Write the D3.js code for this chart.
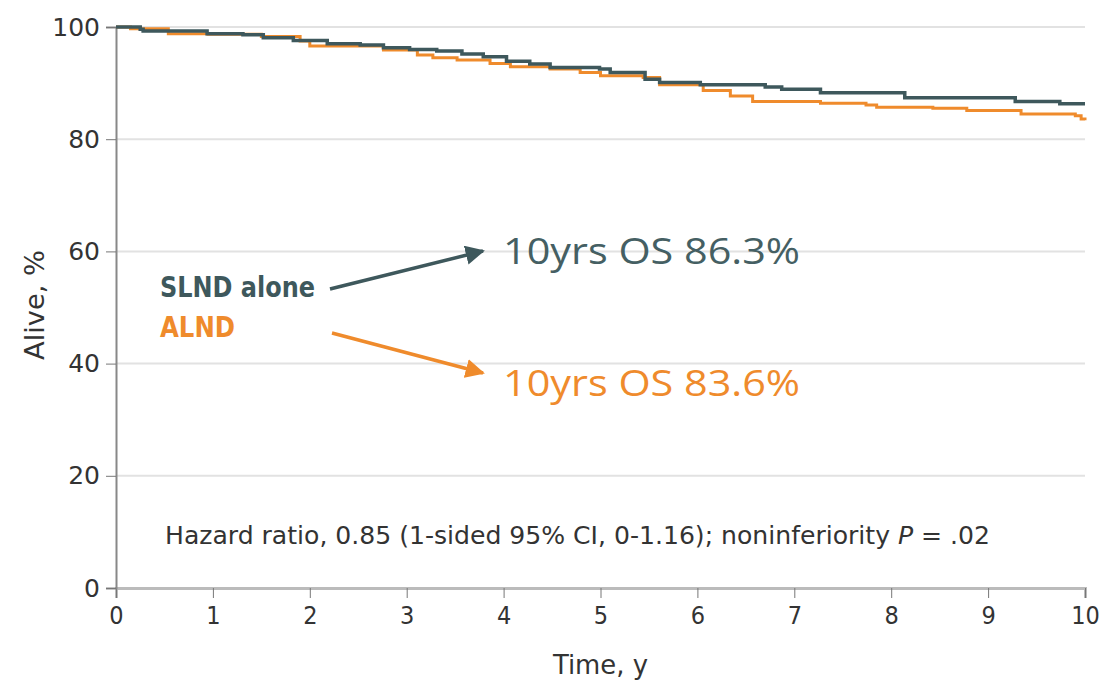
<!DOCTYPE html>
<head>
	<script src="https://d3js.org/d3.v7.min.js"></script>
	<style>
		body { margin: 0; background: #fff; }
		text { font-family: "DejaVu Sans Condensed", "DejaVu Sans", sans-serif; }
	</style>
</head>
<body>
<svg></svg>
<script>
	// step points: [time in years, % alive after that time]
	var slndTimes  = [0, 0.25, 0.28, 0.94, 1.31, 1.52, 1.83, 2.18, 2.52, 2.76, 3.03, 3.31, 3.57, 3.79, 4.03, 4.27, 4.48, 4.99, 5.10, 5.46, 5.61, 6.03, 6.70, 6.87, 7.27, 8.14, 9.28, 9.74, 10];
	var slndValues = [100, 99.6, 99.3, 98.8, 98.6, 98.1, 97.6, 97.0, 96.8, 96.3, 96.0, 95.7, 95.2, 94.7, 93.9, 93.4, 92.8, 92.5, 91.9, 90.7, 90.1, 89.7, 89.3, 88.9, 88.3, 87.4, 86.7, 86.3, 86.3];
	var alndTimes  = [0, 0.15, 0.54, 0.95, 1.50, 1.90, 2.00, 2.76, 3.11, 3.27, 3.52, 3.86, 4.07, 4.48, 4.79, 5.00, 5.44, 5.61, 6.06, 6.34, 6.57, 7.27, 7.74, 7.85, 8.43, 8.78, 9.34, 9.90, 9.96, 10];
	var alndValues = [100, 99.7, 98.8, 98.7, 98.3, 97.5, 96.6, 95.9, 95.0, 94.5, 94.1, 93.5, 92.9, 92.5, 91.9, 91.3, 91.0, 89.7, 88.7, 87.7, 86.7, 86.4, 86.1, 85.7, 85.5, 85.1, 84.5, 84.2, 83.6, 83.4];
	var xTicks = [0, 1, 2, 3, 4, 5, 6, 7, 8, 9, 10];
	var yTicks = [0, 20, 40, 60, 80, 100];
	var slndLabel = "10yrs OS 86.3%";
	var alndLabel = "10yrs OS 83.6%";

	var width = 1106, height = 688;
	var dark = "#3e585c", orange = "#ef8b2c";

	var svg = d3.select("svg").attr("width", width).attr("height", height);

	var x = d3.scaleLinear().domain([0, 10]).range([116, 1085]);
	var y = d3.scaleLinear().domain([0, 100]).range([588, 27]);

	// gridlines
	svg.append("g").selectAll("line")
		.data(yTicks.filter(function(d) { return d > 0; }))
		.enter().append("line")
		.attr("x1", x(0)).attr("x2", x(10))
		.attr("y1", function(d) { return y(d); })
		.attr("y2", function(d) { return y(d); })
		.attr("stroke", "#e2e2e2").attr("stroke-width", 2);

	var xAxis = svg.append("g")
		.attr("transform", "translate(0," + y(0) + ")")
		.call(d3.axisBottom(x).tickValues(xTicks).tickSize(10).tickPadding(8));
	xAxis.select(".domain").attr("stroke", "#bbb").attr("stroke-width", 3);
	xAxis.selectAll(".tick line").attr("stroke", "#777");
	xAxis.selectAll(".tick text").attr("font-size", 25).attr("fill", "#333");

	var yAxis = svg.append("g")
		.attr("transform", "translate(" + x(0) + ",0)")
		.call(d3.axisLeft(y).tickValues(yTicks).tickSize(10).tickPadding(6));
	yAxis.select(".domain").attr("stroke", "#888").attr("stroke-width", 2);
	yAxis.selectAll(".tick line").attr("stroke", "#777");
	yAxis.selectAll(".tick text").attr("font-size", 25).attr("fill", "#333")
		.style("font-family", "DejaVu Sans");

	// curves
	var line = d3.line()
		.x(function(d) { return x(d[0]); })
		.y(function(d) { return y(d[1]); })
		.curve(d3.curveStepAfter);

	svg.append("path")
		.datum(d3.zip(alndTimes, alndValues))
		.attr("d", line).attr("fill", "none")
		.attr("stroke", orange).attr("stroke-width", 3);
	svg.append("path")
		.datum(d3.zip(slndTimes, slndValues))
		.attr("d", line).attr("fill", "none")
		.attr("stroke", dark).attr("stroke-width", 3.5);

	// axis titles
	svg.append("text")
		.attr("x", (x(0) + x(10)) / 2).attr("y", 674)
		.attr("text-anchor", "middle").attr("font-size", 27).attr("fill", "#333")
		.attr("textLength", 95).attr("lengthAdjust", "spacingAndGlyphs")
		.text("Time, y");
	svg.append("text")
		.attr("transform", "translate(44,305) rotate(-90)")
		.attr("text-anchor", "middle").attr("font-size", 27).attr("fill", "#333")
		.attr("textLength", 110).attr("lengthAdjust", "spacingAndGlyphs")
		.text("Alive, %");

	// legend
	svg.append("text").attr("x", 160).attr("y", 297)
		.attr("font-size", 28).attr("font-weight", "bold").attr("fill", dark)
		.attr("textLength", 155).attr("lengthAdjust", "spacingAndGlyphs")
		.text("SLND alone");
	svg.append("text").attr("x", 160).attr("y", 337)
		.attr("font-size", 28).attr("font-weight", "bold").attr("fill", orange)
		.attr("textLength", 75).attr("lengthAdjust", "spacingAndGlyphs")
		.text("ALND");

	// arrows
	var defs = svg.append("defs");
	[["arrD", dark], ["arrO", orange]].forEach(function(a) {
		defs.append("marker").attr("id", a[0])
			.attr("viewBox", "0 0 10 10").attr("refX", 9).attr("refY", 5)
			.attr("markerWidth", 5.5).attr("markerHeight", 5.5).attr("orient", "auto")
			.append("path").attr("d", "M0,0L10,5L0,10z").attr("fill", a[1]);
	});
	svg.append("line").attr("x1", 330).attr("y1", 289).attr("x2", 483).attr("y2", 251)
		.attr("stroke", dark).attr("stroke-width", 3.5).attr("marker-end", "url(#arrD)");
	svg.append("line").attr("x1", 332).attr("y1", 333).attr("x2", 483).attr("y2", 373)
		.attr("stroke", orange).attr("stroke-width", 3.5).attr("marker-end", "url(#arrO)");

	svg.append("text").attr("x", 503).attr("y", 264)
		.attr("font-size", 36).attr("fill", "#455f63")
		.style("font-family", "Open Sans")
		.attr("textLength", 297).attr("lengthAdjust", "spacingAndGlyphs")
		.text(slndLabel);
	svg.append("text").attr("x", 503).attr("y", 396)
		.attr("font-size", 36).attr("fill", orange)
		.style("font-family", "Open Sans")
		.attr("textLength", 297).attr("lengthAdjust", "spacingAndGlyphs")
		.text(alndLabel);

	// hazard ratio note
	var note = svg.append("text").attr("x", 165).attr("y", 544)
		.attr("font-size", 25).attr("fill", "#333")
		.attr("textLength", 825).attr("lengthAdjust", "spacingAndGlyphs");
	note.append("tspan").text("Hazard ratio, 0.85 (1-sided 95% CI, 0-1.16); noninferiority ");
	note.append("tspan").attr("font-style", "italic").text("P");
	note.append("tspan").text(" = .02");
</script>
</body>
</html>
